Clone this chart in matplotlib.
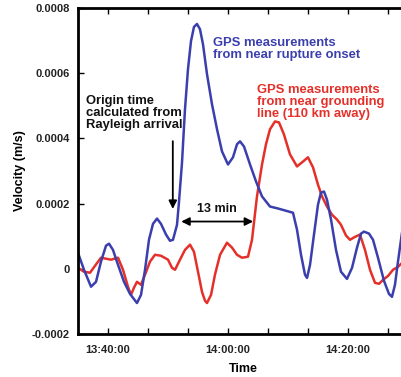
import matplotlib.pyplot as plt
from matplotlib.ticker import MultipleLocator, FuncFormatter

# time in minutes after 13:00, velocity in m/s
t_blue = [35.0, 36.0, 37.17, 38.0, 38.83, 39.67, 40.17, 40.83, 41.67, 42.67, 43.67, 44.83,
          45.5, 46.17, 46.83, 47.5, 48.17, 48.83, 49.67, 50.33, 50.83, 51.5, 51.83, 52.33,
          52.83, 53.33, 53.83, 54.33, 54.83, 55.33, 55.83, 56.5, 57.33, 58.17, 59.0, 60.0,
          60.83, 61.5, 62.0, 62.67, 63.67, 64.67, 65.67, 67.0, 68.33, 69.67, 70.83, 71.5,
          72.17, 72.83, 73.17, 73.67, 74.33, 75.0, 75.5, 76.0, 76.5, 77.17, 78.0, 78.83,
          79.83, 80.67, 81.5, 82.17, 82.67, 83.5, 84.17, 85.0, 86.0, 86.83, 87.33, 87.83,
          88.33, 89.0, 90.0]
v_blue = [0.49, -0.03, -0.55, -0.40, 0.22, 0.71, 0.77, 0.58, 0.12, -0.40, -0.77, -1.05,
          -0.80, -0.03, 0.89, 1.38, 1.54, 1.38, 1.05, 0.86, 0.89, 1.35, 2.05, 3.25,
          4.89, 6.12, 6.98, 7.42, 7.51, 7.35, 6.89, 5.97, 5.05, 4.28, 3.60, 3.20,
          3.42, 3.82, 3.91, 3.75, 3.20, 2.68, 2.22, 1.91, 1.85, 1.78, 1.72, 1.20,
          0.43, -0.18, -0.28, 0.12, 1.05, 1.97, 2.34, 2.37, 2.12, 1.51, 0.58, -0.09,
          -0.31, 0.03, 0.65, 1.08, 1.14, 1.08, 0.89, 0.34, -0.37, -0.77, -0.86, -0.49,
          0.22, 1.11, 1.90]

t_red = [35.0, 36.0, 37.0, 37.83, 38.83, 39.67, 40.5, 41.67, 42.5, 43.33, 43.83, 44.33,
         44.83, 45.5, 46.17, 47.0, 47.83, 48.83, 50.0, 50.67, 51.17, 52.0, 52.83, 53.67,
         54.33, 55.0, 55.67, 56.17, 56.5, 57.17, 57.83, 58.67, 59.83, 60.67, 61.5, 62.33,
         63.33, 64.0, 64.83, 65.67, 66.33, 67.0, 67.83, 68.5, 69.33, 70.33, 71.5, 72.5,
         73.33, 74.17, 75.0, 75.67, 76.5, 77.33, 78.17, 78.83, 79.67, 80.33, 81.17, 82.0,
         82.83, 83.67, 84.5, 85.17, 85.83, 86.67, 87.5, 88.33, 89.0, 90.0]
v_red = [0.03, -0.09, -0.12, 0.09, 0.34, 0.31, 0.28, 0.34, -0.03, -0.55, -0.80, -0.58,
         -0.40, -0.49, -0.18, 0.22, 0.43, 0.40, 0.28, 0.03, -0.03, 0.28, 0.58, 0.74,
         0.52, -0.09, -0.71, -0.98, -1.05, -0.80, -0.18, 0.43, 0.80, 0.65, 0.43, 0.34,
         0.37, 0.89, 2.22, 3.20, 3.82, 4.28, 4.52, 4.49, 4.12, 3.51, 3.14, 3.29,
         3.42, 3.11, 2.58, 2.22, 1.91, 1.66, 1.51, 1.35, 1.02, 0.89, 0.98, 1.05,
         0.58, -0.03, -0.43, -0.46, -0.34, -0.22, -0.03, 0.06, 0.18, 0.25]

v_blue = [v * 1e-4 for v in v_blue]
v_red = [v * 1e-4 for v in v_red]

y_ticks = [-0.0002, 0, 0.0002, 0.0004, 0.0006, 0.0008]
y_labels = ["-0.0002", "0", "0.0002", "0.0004", "0.0006", "0.0008"]
x_ticks = [40, 60, 80]

plt.rcParams['font.family'] = ['Liberation Sans', 'DejaVu Sans']
plt.rcParams['font.weight'] = 'bold'

fig = plt.figure(figsize=(4.02, 3.77), dpi=100)
ax = fig.add_axes([78 / 402, 43 / 377, 330 / 402, 326 / 377])

blue = "#3b3fae"
red = "#e5302a"
ax.plot(t_red, v_red, color=red, lw=1.8)
ax.plot(t_blue, v_blue, color=blue, lw=1.8)

ax.set_xlim(35, 90)
ax.set_ylim(-0.0002, 0.0008)
ax.set_yticks(y_ticks)
ax.set_yticklabels(y_labels)
ax.set_xticks(x_ticks)
ax.xaxis.set_major_formatter(FuncFormatter(lambda m, p: f"{13 + int(m // 60)}:{int(m % 60):02d}:00"))
ax.xaxis.set_minor_locator(MultipleLocator(20 / 3))
ax.yaxis.set_minor_locator(MultipleLocator(0.0002))
for s in ax.spines.values():
    s.set_linewidth(2)
ax.tick_params(which='both', direction='in', top=True, right=True, length=4, width=1,
               labelsize=8, labelcolor='#222222', pad=6)
ax.tick_params(axis='x', pad=8)

ax.set_xlabel("Time", fontsize=9, fontweight='bold', labelpad=6)
ax.set_ylabel("Velocity (m/s)", fontsize=9, fontweight='bold', labelpad=4)

ax.text(57.5, 0.000712, "GPS measurements\nfrom near rupture onset", color=blue,
        fontsize=9.4, fontweight='bold', va='top', ha='left', linespacing=1.02)
ax.text(64.8, 0.000568, "GPS measurements\nfrom near grounding\nline (110 km away)", color=red,
        fontsize=9.4, fontweight='bold', va='top', ha='left', linespacing=1.02)
ax.text(36.3, 0.000533, "Origin time\ncalculated from\nRayleigh arrival", color='#111111',
        fontsize=9.4, fontweight='bold', va='top', ha='left', linespacing=1.02)

ax.annotate("", xy=(50.8, 0.000175), xytext=(50.8, 0.0004),
            arrowprops=dict(arrowstyle='-|>', color='black', lw=1.3, mutation_scale=12))
ax.annotate("", xy=(52.2, 0.000145), xytext=(64.2, 0.000145),
            arrowprops=dict(arrowstyle='<|-|>', color='black', lw=1.3, mutation_scale=12,
                            shrinkA=0, shrinkB=0))
ax.text(58.2, 0.000165, "13 min", color='#111111', fontsize=9, fontweight='bold',
        ha='center', va='bottom')

fig.savefig("out.png", dpi=100)
